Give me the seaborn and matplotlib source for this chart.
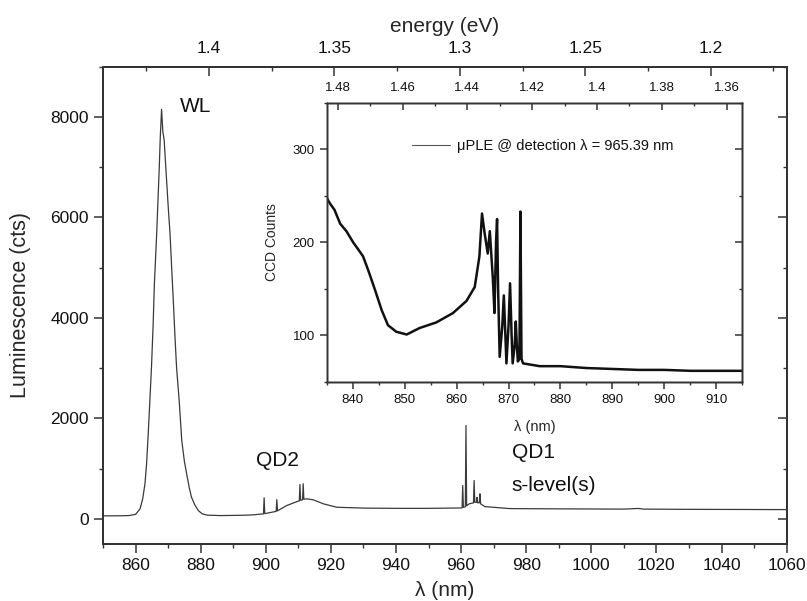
import numpy as np
import pandas as pd
import seaborn as sns
import matplotlib.pyplot as plt
from matplotlib.ticker import MultipleLocator

# main spectrum (wavelength in nm, luminescence in cts)
main_wl = [850, 855, 858, 860, 861.4, 862.2, 862.9, 863.4, 863.9, 864.4, 864.9, 865.4,
           865.8, 866.2, 866.5, 866.9, 867.3, 867.6, 868.0, 868.4, 868.8, 869.2, 869.6,
           870.1, 870.6, 871.1, 871.6, 872.1, 872.6, 873.4, 874.2, 875.0, 875.7, 876.5,
           877.2, 878.2, 879.3, 880.5, 882, 886, 892.6, 896, 899.3, 899.5, 899.7, 903.2,
           903.4, 903.6, 906.4, 909, 910.3, 910.5, 910.7, 911.3, 911.5, 911.7, 912.6,
           914.6, 917.7, 921.8, 930, 940, 950, 960.3, 960.5, 960.7, 961.3, 961.5, 961.7,
           962.5, 963.8, 964.0, 964.2, 964.7, 964.9, 965.1, 965.6, 965.8, 966.0, 967.3,
           975, 990, 1010, 1014.5, 1016, 1030, 1045, 1060]
main_counts = [60, 62, 66, 90, 200, 400, 700, 1100, 1700, 2350, 3020, 3850,
               4690, 5250, 5680, 6350, 7010, 7600, 8150, 7700, 7540, 7100, 6680,
               6150, 5680, 5000, 4350, 3650, 3020, 2360, 1560, 1150, 900, 620,
               430, 280, 165, 100, 75, 66, 72, 80, 100, 420, 105, 150,
               385, 160, 265, 330, 360, 685, 370, 380, 700, 390, 400,
               380, 300, 232, 215, 210, 210, 218, 665, 230, 240, 1860, 260,
               300, 320, 765, 330, 330, 430, 320, 320, 500, 300, 245,
               205, 200, 195, 208, 195, 190, 188, 185]

# inset: uPLE spectrum (CCD counts)
ple_wl = [835, 835.6, 836.5, 837.6, 838.8, 840.1, 841, 842, 843, 844.3, 845.6, 846.8,
          848.4, 850.4, 852.9, 856.1, 859.3, 861.9, 863.5, 864.4, 864.9, 865.4, 866.0,
          866.4, 867.0, 867.3, 867.6, 867.8, 868.0, 868.3, 868.8, 869.1, 869.4, 869.6,
          870.0, 870.3, 870.6, 870.8, 871.2, 871.4, 871.6, 871.8, 872.1, 872.3, 872.5,
          872.8, 876, 880, 885, 890, 895, 900, 905, 910, 915]
ple_counts = [248, 242, 235, 220, 212, 200, 193, 185, 170, 149, 127, 111,
              104, 101, 108, 114, 124, 137, 152, 185, 231, 210, 188,
              212, 160, 124, 200, 225, 150, 77, 110, 143, 100, 70,
              110, 156, 100, 70, 90, 115, 90, 72, 75, 233, 75,
              70, 67, 67, 65, 64, 63, 63, 62, 62, 62]

sns.set_style("ticks")
plt.rcParams['font.family'] = ['Liberation Sans', 'DejaVu Sans']
plt.rcParams['axes.edgecolor'] = '#333333'
plt.rcParams['xtick.color'] = '#333333'
plt.rcParams['ytick.color'] = '#333333'
plt.rcParams['text.color'] = '#111111'

SPINE_W = 1.3


def style_ticks(a, axis, direction, major, minor, fs):
    a.tick_params(axis=axis, which='major', direction=direction, length=6.5, width=1.1,
                  labelsize=fs, labelcolor='#111111')
    a.tick_params(axis=axis, which='minor', direction=direction, length=3, width=1.0)
    loc = a.xaxis if axis == 'x' else a.yaxis
    loc.set_major_locator(MultipleLocator(major))
    loc.set_minor_locator(MultipleLocator(minor))


fig = plt.figure(figsize=(8.07, 6.01), dpi=100)

# ---- main axes ----
ax = fig.add_axes([0.1276, 0.0948, 0.8472, 0.7942])
main_df = pd.DataFrame({"wl": main_wl, "cts": main_counts})
sns.lineplot(x="wl", y="cts", data=main_df, ax=ax, color='#3a3a3a', linewidth=0.9,
             estimator=None, sort=False)
ax.set_xlim(850, 1060)
ax.set_ylim(-500, 9000)
style_ticks(ax, 'x', 'out', 20, 10, 12.5)
style_ticks(ax, 'y', 'out', 2000, 1000, 12.5)
ax.set_xlabel('λ (nm)', fontsize=15, labelpad=6)
ax.set_ylabel('Luminescence (cts)', fontsize=15.5, labelpad=14)
for s in ax.spines.values():
    s.set_linewidth(SPINE_W)

ax_r = ax.twinx()
ax_r.set_ylim(ax.get_ylim())
style_ticks(ax_r, 'y', 'in', 2000, 1000, 12.5)
ax_r.tick_params(axis='y', which='both', labelright=False)

ax_t = ax.twiny()
ax_t.set_xlim(1.4423, 1.1697)
style_ticks(ax_t, 'x', 'in', 0.05, 0.025, 12.5)
ax_t.tick_params(axis='x', which='major', pad=8)
ax_t.set_xticks([1.4, 1.35, 1.3, 1.25, 1.2])
ax_t.set_xticklabels(['1.4', '1.35', '1.3', '1.25', '1.2'])
ax_t.set_xlabel('energy (eV)', fontsize=15, labelpad=6)
for a in (ax_r, ax_t):
    for s in a.spines.values():
        s.set_linewidth(SPINE_W)

ax.text(873.7, 8200, 'WL', fontsize=15, ha='left', va='center')
ax.text(897, 1163, 'QD2', fontsize=15, ha='left', va='center')
ax.text(975.5, 1328, 'QD1', fontsize=15, ha='left', va='center')
ax.text(975.5, 664, 's-level(s)', fontsize=15, ha='left', va='center')

# ---- inset ----
ins = fig.add_axes([0.4048, 0.3644, 0.515, 0.4647], zorder=5)
ins.set_facecolor('white')
ple_df = pd.DataFrame({"wl": ple_wl, "cts": ple_counts})
sns.lineplot(x="wl", y="cts", data=ple_df, ax=ins, color='#111111', linewidth=1.8,
             estimator=None, sort=False, label='μPLE @ detection λ = 965.39 nm')
ins.set_xlim(835, 915)
ins.set_ylim(50, 350)
style_ticks(ins, 'x', 'out', 10, 5, 9.5)
style_ticks(ins, 'y', 'out', 100, 50, 9.5)
ins.tick_params(which='major', length=5)
ins.tick_params(which='minor', length=2.5)
ins.set_xlabel('λ (nm)', fontsize=10.5, labelpad=10)
ins.set_ylabel('CCD Counts', fontsize=10, labelpad=10)
ins.set_xticks(range(840, 915, 10))
ins.set_yticks([100, 200, 300])
for s in ins.spines.values():
    s.set_linewidth(1.0)

ins_r = ins.twinx()
ins_r.set_ylim(ins.get_ylim())
style_ticks(ins_r, 'y', 'in', 100, 50, 9.5)
ins_r.tick_params(axis='y', which='both', labelright=False)
ins_r.tick_params(which='major', length=5)
ins_r.tick_params(which='minor', length=2.5)

ins_t = ins.twiny()
ins_t.set_xlim(1.4834, 1.3552)
style_ticks(ins_t, 'x', 'in', 0.02, 0.01, 9.5)
ins_t.tick_params(which='major', length=5, pad=6)
ins_t.tick_params(which='minor', length=2.5)
ins_t.set_xticks([1.48, 1.46, 1.44, 1.42, 1.4, 1.38, 1.36])
ins_t.set_xticklabels(['1.48', '1.46', '1.44', '1.42', '1.4', '1.38', '1.36'])
for a in (ins_r, ins_t):
    for s in a.spines.values():
        s.set_linewidth(1.0)

leg = ins.legend(loc='center left', bbox_to_anchor=(0.205, 0.845), frameon=False,
                 fontsize=10.5, handlelength=2.6, handletextpad=0.5,
                 borderpad=0, borderaxespad=0)
for h in leg.get_lines():
    h.set_linewidth(0.8)
    h.set_color('#555555')

fig.savefig('out.png', dpi=100)
